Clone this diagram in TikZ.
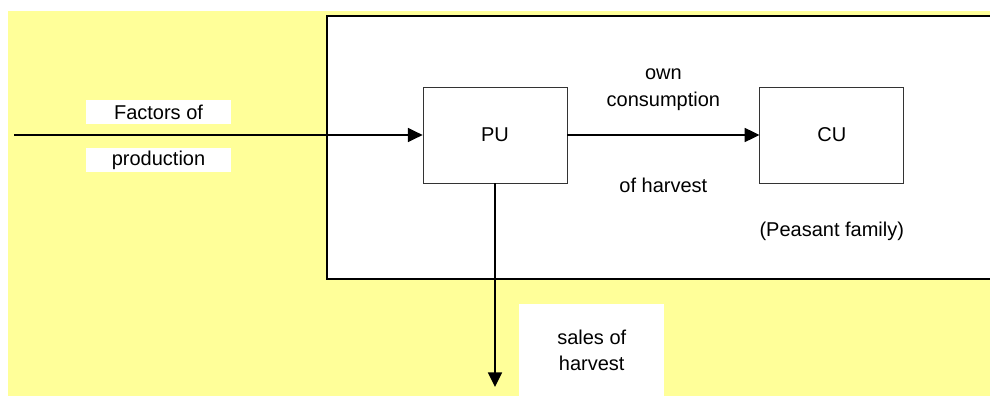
\documentclass[tikz,border=0pt]{standalone}
\usepackage{fontspec}
\setmainfont{Liberation Sans}
\usetikzlibrary{arrows.meta}
\usetikzlibrary{positioning}
\definecolor{paleyellow}{RGB}{255,255,153}
\tikzset{
  unit/.style={rectangle, minimum width=108pt, minimum height=72pt, text centered, draw=black!80, line width=0.6pt},
  tag/.style={rectangle, fill=white, minimum width=108.75pt, minimum height=18pt, inner sep=0pt, text centered},
  flow/.style={line width=1.3pt, ->},
  >={Triangle[length=11pt,width=10.5pt]},
  node distance=5mm
}

\begin{document}
\begin{tikzpicture}[x=0.75pt, y=-0.75pt, font=\fontsize{15}{19.5}\selectfont]
\useasboundingbox (0,0) rectangle (990,396);
\fill[paleyellow] (8,11) rectangle (990,396);
\filldraw[fill=white, draw=black, line width=1.5pt] (327,16) rectangle (1000,279);

\node[unit] (pu) at (495,135) {PU};
\node[unit, right=144pt of pu] (cu) {CU};
\node (family) at ([yshift=-72pt]cu.center) {(Peasant family)};

\node[tag] (factors) at (158.5,112) {Factors of};
\node[tag] (production) at (158.5,160) {production};
\node[tag, minimum height=72pt, anchor=north west] (sales) at (519,304) {\begin{tabular}{@{}c@{}}sales of\\harvest\end{tabular}};

\coordinate (source) at (14,135);
\coordinate (market) at (495,387);

%
\draw[flow] (source) -- (pu);
\draw[flow] (pu) -- node[above=14pt, align=center, font=\fontsize{15}{20.5}\selectfont] {own\\consumption} node[below=28pt] {of harvest} (cu);
\draw[flow] (pu) -- (market);
\end{tikzpicture}
\end{document}
